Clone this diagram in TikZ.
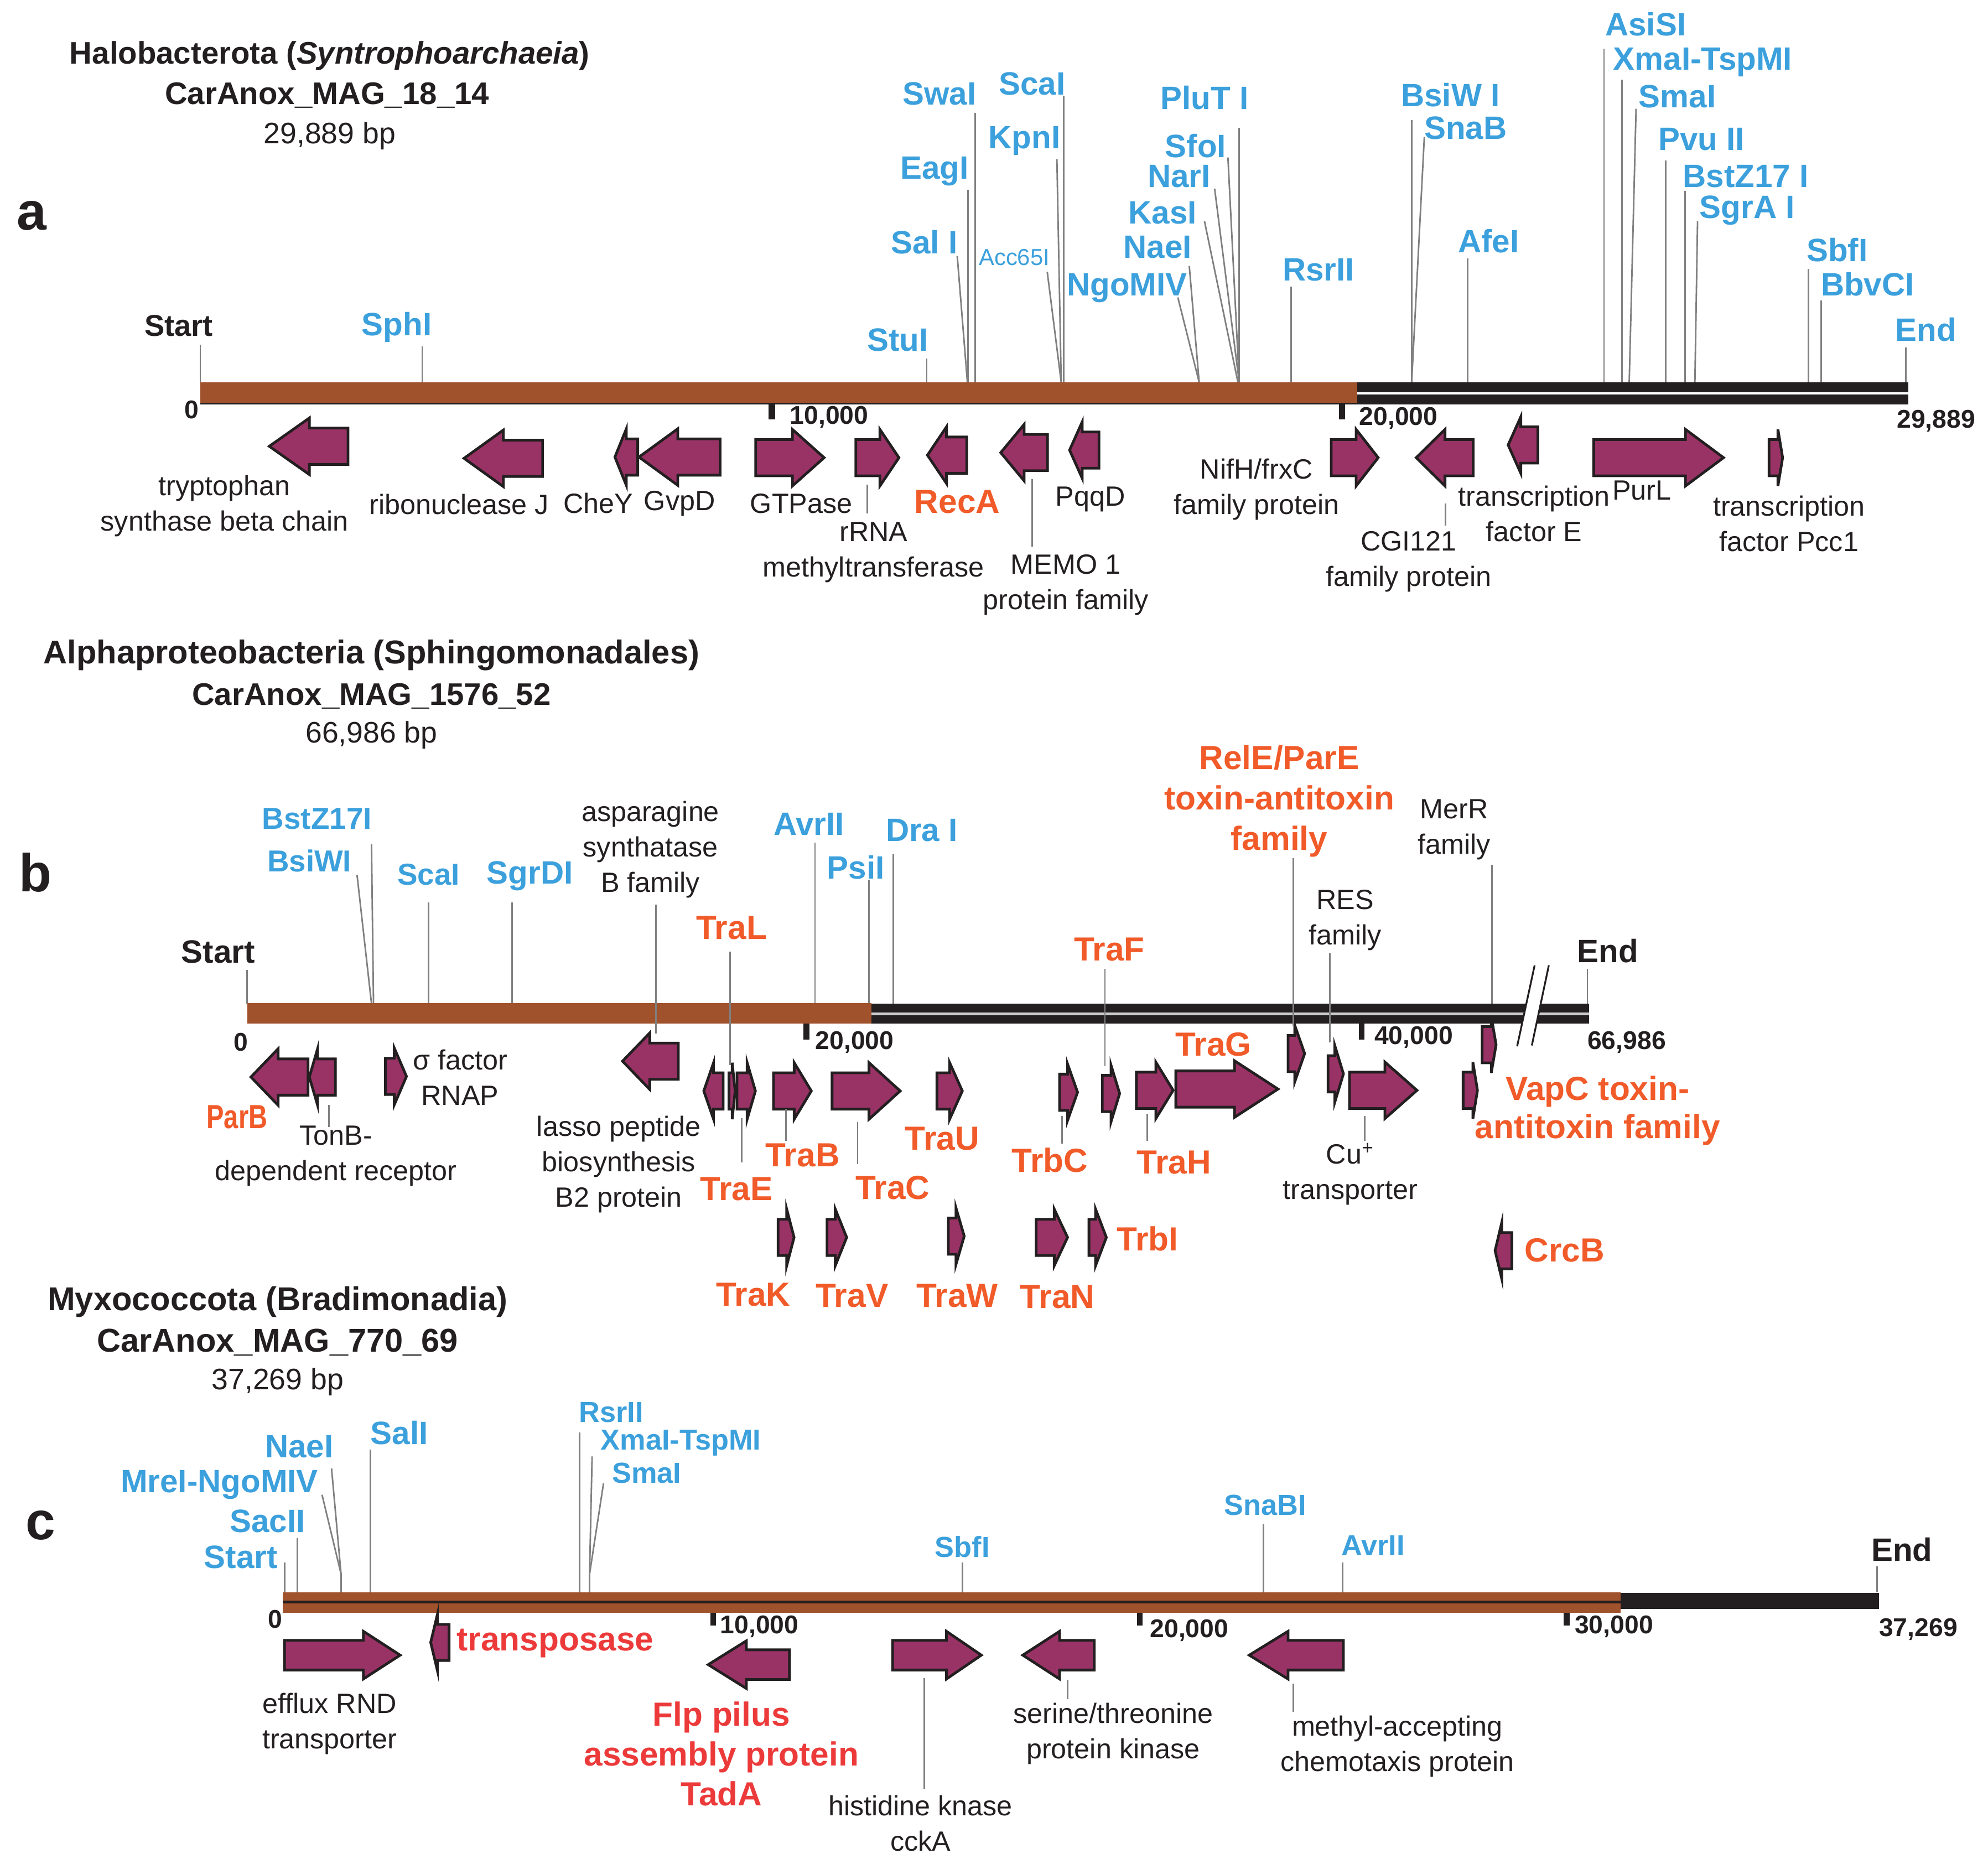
\documentclass[tikz,border=0pt]{standalone}
\usepackage{fontspec}
\setmainfont{Liberation Sans}
\definecolor{siteblue}{RGB}{59,160,220}
\definecolor{orng}{RGB}{241,90,41}
\definecolor{redc}{RGB}{236,58,58}
\definecolor{brn}{RGB}{160,82,45}
\definecolor{gpurp}{RGB}{153,51,102}
\definecolor{txt}{RGB}{35,31,32}
\definecolor{lgray}{RGB}{128,128,128}
\newcommand{\bh}{14.3}
\newcommand{\hh}{22.3}
\newcommand{\geneR}[4]{\draw[gene] (#1,{#4-\bh}) -- (#2,{#4-\bh}) -- (#2,{#4-\hh}) -- (#3,#4) -- (#2,{#4+\hh}) -- (#2,{#4+\bh}) -- (#1,{#4+\bh}) -- cycle;}
\newcommand{\geneL}[4]{\draw[gene] (#3,{#4-\bh}) -- (#2,{#4-\bh}) -- (#2,{#4-\hh}) -- (#1,#4) -- (#2,{#4+\hh}) -- (#2,{#4+\bh}) -- (#3,{#4+\bh}) -- cycle;}
\begin{document}
\begin{tikzpicture}[x=0.02cm,y=-0.02cm,
  gene/.style={fill=gpurp,draw=txt,line width=1.2pt,line join=miter},
  sline/.style={draw=lgray,line width=0.7pt},
  pline/.style={draw=lgray,line width=0.7pt},
  site/.style={font=\bfseries\fontsize{14.5}{17}\selectfont,text=siteblue,inner sep=0pt},
  sitec/.style={font=\bfseries\fontsize{13}{15}\selectfont,text=siteblue,inner sep=0pt},
  glab/.style={font=\fontsize{12.5}{15.9}\selectfont,text=txt,align=center,inner sep=0pt},
  olab/.style={font=\bfseries\fontsize{15}{17.2}\selectfont,text=orng,align=center,inner sep=0pt},
  rlab/.style={font=\bfseries\fontsize{15}{17.9}\selectfont,text=redc,align=center,inner sep=0pt},
  ttl/.style={font=\bfseries\fontsize{14}{17.6}\selectfont,text=txt,align=center,inner sep=0pt},
  ttlb/.style={font=\bfseries\fontsize{14.8}{17.6}\selectfont,text=txt,align=center,inner sep=0pt},
  sub/.style={font=\fontsize{13.3}{16}\selectfont,text=txt,inner sep=0pt},
  num/.style={font=\bfseries\fontsize{11.5}{13}\selectfont,text=txt,inner sep=0pt},
  se/.style={font=\bfseries\fontsize{13.5}{15}\selectfont,text=txt,inner sep=0pt},
  plab/.style={font=\bfseries\fontsize{24}{26}\selectfont,text=txt,inner sep=0pt},
  tick/.style={fill=txt,draw=none}
]
\useasboundingbox (0,0) rectangle (1568,1470);

% ================= PANEL A =================
\node[ttl] (aT1) at (260,44) {Halobacterota (\textit{Syntrophoarchaeia})};
\node[ttl] (aT2) at (258,75) {CarAnox\_MAG\_18\_14};
\node[sub] (aT3) at (260,107) {29,889 bp};
\node[plab] (aP) at (25,170) {a};

% site lines
\draw[sline] (158,272) -- (158,301.5);
\draw[sline] (333,273) -- (333,301.5);
\draw[sline] (731,283) -- (731,301.5);
\draw[sline] (769,89) -- (769,301.5);
\draw[sline] (763.5,149.5) -- (763.5,301.5);
\draw[sline] (755,202) -- (763,301.5);
\draw[sline] (826,214.5) -- (837,301.5);
\draw[sline] (833.6,125.5) -- (837,301.5);
\draw[sline] (839,75.5) -- (839,301.5);
\draw[sline] (929,234.6) -- (945.8,301.5);
\draw[sline] (938,209.7) -- (945.8,301.5);
\draw[sline] (950,174.5) -- (976.4,301.5);
\draw[sline] (958,148.8) -- (977.4,301.5);
\draw[sline] (968.5,124.2) -- (977.4,301.5);
\draw[sline] (977.4,101) -- (977.4,301.5);
\draw[sline] (1018.5,226) -- (1018.5,301.5);
\draw[sline] (1113.4,94.8) -- (1113.4,301.5);
\draw[sline] (1123.4,108) -- (1113.4,301.5);
\draw[sline] (1157.6,204) -- (1157.6,301.5);
\draw[sline] (1265.1,38.4) -- (1265.1,301.5);
\draw[sline] (1279.4,63) -- (1279.4,301.5);
\draw[sline] (1290.4,85.8) -- (1285,301.5);
\draw[sline] (1313.6,126.4) -- (1313.6,301.5);
\draw[sline] (1328.9,150.4) -- (1328.9,301.5);
\draw[sline] (1338.9,174.5) -- (1336.8,301.5);
\draw[sline] (1426.4,212) -- (1426.4,301.5);
\draw[sline] (1436.4,237) -- (1436.4,301.5);
\draw[sline] (1503.3,274) -- (1503.3,301.5);

% site labels
\node[se] (aStart) at (141,257) {Start};
\node[site] (aSphI) at (313,258) {SphI};
\node[site] (aStuI) at (708,268) {StuI};
\node[site] (aSwaI) at (741,74) {SwaI};
\node[site] (aEagI) at (737,135) {EagI};
\node[site] (aSalI) at (729,191) {Sal I};
\node[font=\fontsize{10.4}{12}\selectfont,text=siteblue,inner sep=0pt] (aAcc) at (800,203) {Acc65I};
\node[site] (aKpnI) at (808,111) {KpnI};
\node[site] (aScaI) at (814,66) {ScaI};
\node[site] (aNgo) at (889,227) {NgoMIV};
\node[site] (aNaeI) at (913,195) {NaeI};
\node[site] (aKasI) at (917,168) {KasI};
\node[site] (aNarI) at (930,139) {NarI};
\node[site] (aSfoI) at (943,115) {SfoI};
\node[site] (aPlu) at (950,77) {PluT I};
\node[site] (aRsr) at (1040,213) {RsrII};
\node[site] (aBsiW) at (1144,75) {BsiW I};
\node[site] (aSnaB) at (1156,101) {SnaB};
\node[site] (aAfeI) at (1174,190) {AfeI};
\node[site] (aAsiSI) at (1298,19) {AsiSI};
\node[site] (aXma) at (1343,49) {XmaI-TspMI};
\node[site] (aSmaI) at (1323,76) {SmaI};
\node[site] (aPvu) at (1342,110) {Pvu II};
\node[site] (aBstZ) at (1377,139) {BstZ17 I};
\node[site] (aSgrA) at (1378,166) {SgrA I};
\node[site] (aSbfI) at (1449,197) {SbfI};
\node[site] (aBbv) at (1473,224) {BbvCI};
\node[site] (aEnd) at (1519,260) {End};

% bar
\fill[brn] (158,301.5) rectangle (1070.6,318.5);
\fill[txt] (158,317.6) rectangle (1070.6,319.2);
\fill[txt] (1070.6,301.5) rectangle (1505,319.2);
\fill[white] (1070.6,309.5) rectangle (1505,311.3);
\fill[tick] (606.2,319) rectangle (611.2,331);
\fill[tick] (1056,319) rectangle (1061,331);
\node[num] (a0) at (151,323) {0};
\node[num] (a10k) at (654,329) {10,000};
\node[num] (a20k) at (1103,330) {20,000};
\node[num] (aLen) at (1527,332) {29,889};

% genes
\geneL{212.4}{244}{274.5}{352}
\geneL{366}{397}{428}{361.5}
\geneL{485}{494}{503}{360.5}
\geneL{504}{534.6}{568}{360.5}
\geneR{596}{625}{650}{361}
\geneR{675}{694}{709}{361}
\geneL{731.5}{746.5}{762.5}{359}
\geneL{789.3}{807.8}{826.2}{357}
\geneL{843.6}{853.6}{866.8}{355}
\geneR{1050}{1069.6}{1087}{361}
\geneL{1117}{1139.7}{1161.9}{361}
\geneL{1189.5}{1199.5}{1213}{351}
\geneR{1257}{1329.4}{1359.4}{361}
\geneR{1395.3}{1402.3}{1406}{361}

% pointer lines
\draw[pline] (684,382.5) -- (684,405);
\draw[pline] (814,378) -- (814,431);
\draw[pline] (1140,397) -- (1140,414.5);

% gene labels
\node[glab] (gTrp) at (177,399) {tryptophan\\synthase beta chain};
\node[glab] (gRnj) at (362,398) {ribonuclease J};
\node[glab] (gCheY) at (472,397) {CheY};
\node[glab] (gGvpD) at (536,397) {GvpD};
\node[glab] (gGTP) at (632,397) {GTPase};
\node[glab] (gRRNA) at (689,435.5) {rRNA\\methyltransferase};
\node[olab] (gRecA) at (755,396) {RecA};
\node[glab] (gPqqD) at (860,394) {PqqD};
\node[glab] (gMemo) at (840.5,461.5) {MEMO 1\\protein family};
\node[glab] (gNifH) at (991,386) {NifH/frxC\\family protein};
\node[glab] (gCGI) at (1111,443) {CGI121\\family protein};
\node[glab] (gTfE) at (1210,405) {transcription\\factor E};
\node[glab] (gPurL) at (1295,387) {PurL};
\node[glab] (gPcc) at (1411,413) {transcription\\factor Pcc1};

% ================= PANEL B =================
\node[ttlb] (bT1) at (293,517) {Alphaproteobacteria (Sphingomonadales)};
\node[ttl] (bT2) at (293,549) {CarAnox\_MAG\_1576\_52};
\node[sub] (bT3) at (293,580) {66,986 bp};
\node[plab] (bP) at (28,688) {b};

% site lines
\draw[sline] (195,765) -- (195,791.5);
\draw[sline] (293,666) -- (294.6,791.5);
\draw[sline] (281.6,690) -- (293,791.5);
\draw[sline] (338,711.6) -- (338,791.5);
\draw[sline] (403.8,711.6) -- (403.8,791.5);
\draw[sline] (642.8,664.5) -- (642.8,791.5);
\draw[sline] (685.4,694) -- (685.4,791.5);
\draw[sline] (704.4,673.6) -- (704.4,791.5);
\draw[sline] (1176.6,682) -- (1176.6,791.5);
\draw[sline] (1252,764) -- (1252,791.5);

% bar
\fill[brn] (195,791.3) rectangle (687.4,807.4);
\fill[txt] (687.4,791.8) rectangle (1253.3,807.3);
\fill[black!20] (687.4,798.6) rectangle (1253.3,800.6);
\coordinate (brA1) at (1210.4,761.4);
\coordinate (brA2) at (1196.6,825.3);
\coordinate (brB1) at (1221.6,761.4);
\coordinate (brB2) at (1208.2,824.6);
\fill[white] (1204.4,789) -- (1215.8,789) -- (1211.6,810) -- (1200.1,810) -- cycle;
\draw[txt,line width=0.8pt] (brA1) -- (brA2);
\draw[txt,line width=0.8pt] (brB1) -- (brB2);
\fill[tick] (633.8,807.4) rectangle (638.4,820);
\fill[tick] (1071.6,807.3) rectangle (1076.2,820);
\node[num] (b0) at (190,822) {0};
\node[num] (b20k) at (674,822) {20,000};
\node[num] (b40k) at (1115,818) {40,000};
\node[num] (bLen) at (1283,822) {66,986};

% site labels
\node[se,font=\bfseries\fontsize{14.5}{16}\selectfont] (bStart) at (172,751) {Start};
\node[se,font=\bfseries\fontsize{14.5}{16}\selectfont] (bEnd) at (1268,750) {End};
\node[site,font=\bfseries\fontsize{13.6}{16}\selectfont] (bBstZ) at (250,646) {BstZ17I};
\node[site,font=\bfseries\fontsize{13.6}{16}\selectfont] (bBsiWI) at (244,679) {BsiWI};
\node[site,font=\bfseries\fontsize{13.6}{16}\selectfont] (bScaI) at (338,690) {ScaI};
\node[site] (bSgrDI) at (418,691) {SgrDI};
\node[site] (bAvrII) at (638,650) {AvrII};
\node[site] (bPsiI) at (675,684) {PsiI};
\node[site] (bDraI) at (727,655) {Dra I};
\node[glab] (bAsn) at (513,670) {asparagine\\synthatase\\B family};
\node[glab] (bRES) at (1061,726) {RES\\family};
\node[glab] (bMerR) at (1147,654.5) {MerR\\family};
\node[olab,font=\bfseries\fontsize{15}{18.1}\selectfont] (bRelE) at (1009,632) {RelE/ParE\\toxin-antitoxin\\family};
\node[olab] (bTraL) at (577,732) {TraL};
\node[olab] (bTraF) at (875,749) {TraF};

% genes row 1
\geneL{197.9}{219.4}{243}{849.5}
\geneL{244}{250.5}{264.5}{849.5}
\geneR{304}{311}{320.6}{849}
\geneL{491}{512.5}{535}{837}
\geneL{555.1}{562.8}{570.4}{860.5}
\geneR{575}{577.5}{579.8}{860.5}
\geneR{581.3}{589.3}{595.8}{860.5}
\geneR{610.1}{626.4}{639.9}{860.5}
\geneR{656.3}{685.4}{710}{860.5}
\geneR{739}{749}{759}{860.5}
\geneR{835.7}{842}{849.9}{861.5}
\geneR{869.4}{876.3}{883.1}{862.5}
\geneR{896.3}{911.6}{925.3}{860}
\geneR{927.4}{973.7}{1008}{859}
\geneR{1015.9}{1021.2}{1029}{831}
\geneR{1047.5}{1052.8}{1059.6}{847}
\geneR{1064.4}{1092.3}{1117.6}{860}
\geneR{1154}{1161.7}{1165.3}{860}
\geneR{1169}{1176.2}{1180}{824}
% genes row 2
\geneR{613.7}{620.5}{626.3}{976}
\geneR{652.3}{658.8}{667.8}{976}
\geneR{748}{754}{760.5}{975}
\geneR{817.3}{831.5}{842}{976}
\geneR{858.9}{864.1}{872.6}{976}
\geneL{1179.2}{1184.5}{1192.4}{986.5}

% lines across bar / pointers
\draw[sline] (517.5,713.4) -- (517.5,815);
\draw[sline] (576,750.6) -- (576,840);
\draw[sline] (871.5,764) -- (871.5,841);
\draw[sline] (1020.1,677) -- (1020.1,809);
\draw[sline] (1049,752) -- (1049,822);
\draw[pline] (259.5,871.5) -- (259.5,889);
\draw[pline] (585,882) -- (585,917);
\draw[pline] (620,875) -- (620,900);
\draw[pline] (676.4,885) -- (676.4,918);
\draw[pline] (837.8,880) -- (837.8,902);
\draw[pline] (904.7,878.5) -- (904.7,900);
\draw[pline] (1076.5,880) -- (1076.5,900);

% gene labels
\node[olab,xscale=0.78,transform shape] (bParB) at (187,881) {ParB};
\node[glab] (bTonB) at (265,912) {TonB-\\dependent receptor};
\node[glab,align=left] (bSig) at (363,850) {σ factor\\\hspace*{0.3em}RNAP};
\node[glab] (bLasso) at (488,918.5) {lasso peptide\\biosynthesis\\B2 protein};
\node[olab] (bTraE) at (581,938) {TraE};
\node[olab] (bTraB) at (633,911) {TraB};
\node[olab] (bTraC) at (704,937) {TraC};
\node[olab] (bTraU) at (743,898) {TraU};
\node[olab] (bTrbC) at (828,915) {TrbC};
\node[olab] (bTraH) at (926,917) {TraH};
\node[olab] (bTraG) at (957,824) {TraG};
\node[glab] (bCu) at (1065,926) {Cu\textsuperscript{+}\\transporter};
\node[olab] (bVapC) at (1260,876) {VapC toxin-\\antitoxin family};
\node[olab] (bTraK) at (594,1021) {TraK};
\node[olab] (bTraV) at (672,1022) {TraV};
\node[olab] (bTraW) at (755,1022) {TraW};
\node[olab] (bTraN) at (834,1023) {TraN};
\node[olab] (bTrbI) at (905,977) {TrbI};
\node[olab] (bCrcB) at (1234,986) {CrcB};

% ================= PANEL C =================
\node[ttlb] (cT1) at (219,1027) {Myxococcota (Bradimonadia)};
\node[ttlb] (cT2) at (219,1059) {CarAnox\_MAG\_770\_69};
\node[sub] (cT3) at (219,1090) {37,269 bp};
\node[plab] (cP) at (32,1203) {c};

% site lines
\draw[sline] (224.4,1232.6) -- (224.4,1256);
\draw[sline] (234.5,1213.3) -- (234.5,1256);
\draw[sline] (254,1179) -- (269,1241.5) -- (269,1256);
\draw[sline] (261.5,1158.3) -- (269,1241.5);
\draw[sline] (292,1143.4) -- (292,1256);
\draw[sline] (457,1130) -- (457,1256);
\draw[sline] (467,1148.8) -- (465,1241.5) -- (465,1256);
\draw[sline] (476,1170) -- (465,1241.5);
\draw[sline] (759,1232.6) -- (759,1256);
\draw[sline] (996.4,1202.3) -- (996.4,1256);
\draw[sline] (1059,1232.6) -- (1059,1256);
\draw[sline] (1480.6,1235.6) -- (1480.6,1256);

% bar
\fill[brn] (223,1256) rectangle (1278.3,1272.2);
\fill[txt] (223,1262.6) rectangle (1278.3,1264.8);
\fill[txt] (1278.3,1256.5) rectangle (1482.2,1269.2);
\fill[tick] (560.2,1272.2) rectangle (564.8,1282);
\fill[tick] (896.7,1272.2) rectangle (901.3,1282);
\fill[tick] (1233.3,1272.2) rectangle (1237.9,1282);
\node[num] (c0) at (217,1277) {0};
\node[num] (c10k) at (599,1283) {10,000};
\node[num] (c20k) at (938,1286) {20,000};
\node[num] (c30k) at (1273,1283) {30,000};
\node[num] (cLen) at (1513,1285) {37,269};

% site labels
\node[site] (cStart) at (190,1228) {Start};
\node[site] (cSacII) at (211,1200) {SacII};
\node[site] (cMreI) at (173,1171) {MreI-NgoMIV};
\node[site] (cNaeI) at (236,1141) {NaeI};
\node[site] (cSalI) at (315,1130) {SalI};
\node[sitec] (cRsr) at (482,1114) {RsrII};
\node[sitec] (cXma) at (537,1138) {XmaI-TspMI};
\node[sitec] (cSma) at (510,1162) {SmaI};
\node[sitec] (cSbf) at (759,1220) {SbfI};
\node[sitec] (cSna) at (998,1187) {SnaBI};
\node[sitec] (cAvr) at (1083,1219) {AvrII};
\node[se,font=\bfseries\fontsize{14.5}{16}\selectfont] (cEnd) at (1500,1222) {End};

% genes
\renewcommand{\bh}{11.7}
\renewcommand{\hh}{18.8}
\geneR{224.4}{286.6}{315.6}{1305.5}
\geneL{558.6}{588.7}{622.7}{1313}
\geneR{704}{746.5}{774}{1305.5}
\geneL{806.7}{835.7}{863.1}{1305.5}
\geneL{985.3}{1015.9}{1059.6}{1305.5}
\renewcommand{\bh}{14.2}
\renewcommand{\hh}{22.2}
\geneL{339.7}{345}{354.2}{1295.5}

\draw[pline] (729,1323.5) -- (729,1411);
\draw[pline] (842,1325) -- (842,1340);
\draw[pline] (1020,1328) -- (1020,1350);

% gene labels
\node[rlab] (cTrans) at (438,1296) {transposase};
\node[glab] (cEff) at (260,1359.5) {efflux RND\\transporter};
\node[rlab] (cFlp) at (569,1383.5) {Flp pilus\\assembly protein\\TadA};
\node[glab] (cHis) at (726,1438) {histidine knase\\cckA};
\node[glab] (cSer) at (878,1367.5) {serine/threonine\\protein kinase};
\node[glab] (cMet) at (1102,1377.5) {methyl-accepting\\chemotaxis protein};
\end{tikzpicture}
\end{document}
